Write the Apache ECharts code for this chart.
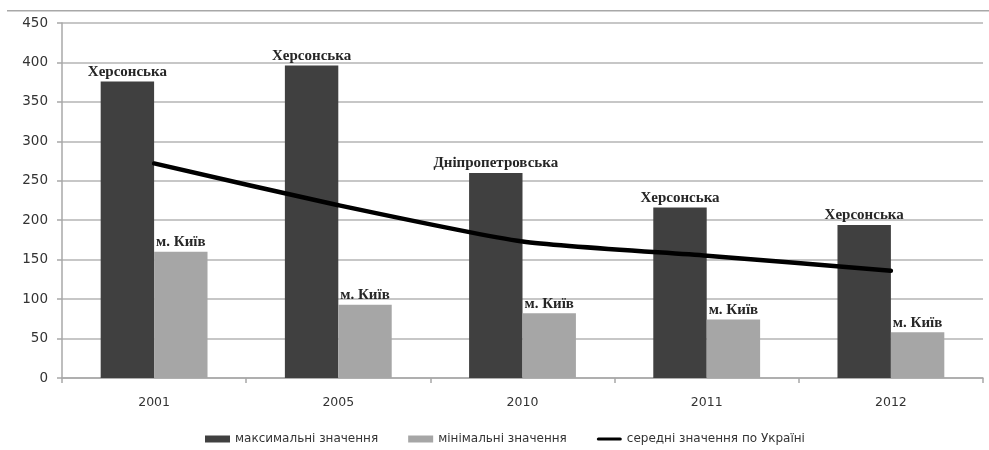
<!DOCTYPE html>
<html>
<head>
<meta charset="utf-8">
<script src="https://cdn.jsdelivr.net/npm/echarts@6/dist/echarts.min.js"></script>
<style>
  html, body { margin: 0; padding: 0; background: #fff; }
  #chart { width: 989px; height: 450px; }
</style>
</head>
<body>
<div id="chart"></div>
<script>
// Years on the category axis
const years = ['2001', '2005', '2010', '2011', '2012'];
// Highest regional values per year and the region that holds them
const maxValues = [376, 396, 260, 216, 194];
const maxRegions = ['Херсонська', 'Херсонська', 'Дніпропетровська', 'Херсонська', 'Херсонська'];
// Lowest regional values per year and the region that holds them
const minValues = [160, 93, 82, 74, 58];
const minRegions = ['м. Київ', 'м. Київ', 'м. Київ', 'м. Київ', 'м. Київ'];
// Average across Ukraine
const avgValues = [272, 219, 173, 155, 136];
// Value axis ticks
const yTicks = { min: 0, max: 450, interval: 50 };

const seriesNames = ['максимальні значення', 'мінімальні значення', 'середні значення по Україні'];

const chart = echarts.init(document.getElementById('chart'), null, { renderer: 'canvas' });

const serifLabel = {
  show: true,
  position: 'top',
  distance: 2,
  fontFamily: '"Liberation Serif", "DejaVu Serif", serif',
  fontSize: 15,
  fontWeight: 'bold',
  color: '#262626'
};

chart.setOption({
  animation: false,
  backgroundColor: '#ffffff',
  grid: { left: 62, right: 6, top: 23, bottom: 72, containLabel: false },
  graphic: [{
    type: 'rect',
    silent: true,
    shape: { x: 7, y: 10, width: 982, height: 1.5 },
    style: { fill: '#a8a8a8' }
  }],
  legend: {
    left: 200,
    top: 428,
    itemGap: 30,
    itemWidth: 25,
    itemHeight: 7,
    textStyle: { fontFamily: '"DejaVu Sans", sans-serif', fontSize: 12, color: '#333' },
    data: [
      { name: seriesNames[0], icon: 'rect' },
      { name: seriesNames[1], icon: 'rect' },
      { name: seriesNames[2], icon: 'path://M2,1 L23,1 A1,1 0 0 1 23,4 L2,4 A1,1 0 0 1 2,1 Z', itemStyle: { color: '#000' } }
    ]
  },
  xAxis: {
    type: 'category',
    data: years,
    axisLine: { show: true, lineStyle: { color: '#a8a8a8', width: 1.5 } },
    axisTick: { show: true, length: 5, lineStyle: { color: '#a8a8a8', width: 1.5 } },
    axisLabel: {
      margin: 18,
      fontFamily: '"DejaVu Sans", sans-serif',
      fontSize: 12.5,
      color: '#333'
    },
    splitLine: { show: false }
  },
  yAxis: {
    type: 'value',
    min: yTicks.min,
    max: yTicks.max,
    interval: yTicks.interval,
    axisLine: { show: true, lineStyle: { color: '#a8a8a8', width: 1.5 } },
    axisTick: { show: true, length: 5, lineStyle: { color: '#a8a8a8', width: 1.5 } },
    axisLabel: {
      margin: 14,
      fontFamily: '"DejaVu Sans", sans-serif',
      fontSize: 13.5,
      color: '#333'
    },
    splitLine: { show: true, lineStyle: { color: '#b4b4b4', width: 1.5 } }
  },
  series: [
    {
      name: seriesNames[0],
      type: 'bar',
      data: maxValues,
      barGap: '0%',
      barCategoryGap: '42%',
      itemStyle: { color: '#404040' },
      label: Object.assign({}, serifLabel, {
        formatter: p => maxRegions[p.dataIndex]
      })
    },
    {
      name: seriesNames[1],
      type: 'bar',
      data: minValues,
      barGap: '0%',
      barCategoryGap: '42%',
      itemStyle: { color: '#a6a6a6' },
      label: Object.assign({}, serifLabel, {
        formatter: p => minRegions[p.dataIndex]
      })
    },
    {
      name: seriesNames[2],
      type: 'line',
      data: avgValues,
      smooth: 0.2,
      symbol: 'none',
      lineStyle: { color: '#000', width: 4.5, cap: 'round' },
      itemStyle: { color: '#000' },
      z: 5
    }
  ]
});
</script>
</body>
</html>
